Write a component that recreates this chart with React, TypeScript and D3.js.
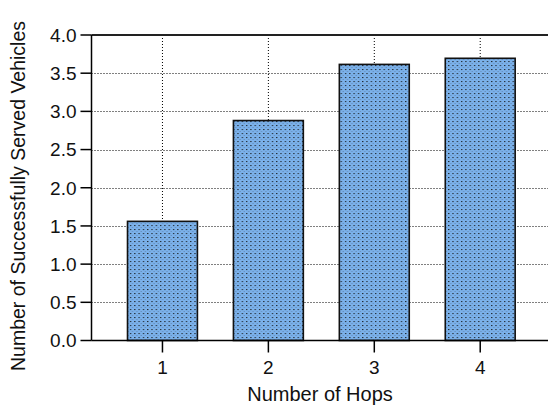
import React from "react";
import * as d3 from "d3";

const hops = [1, 2, 3, 4];
const served = [1.56, 2.88, 3.615, 3.695];
const yTicks = [0, 0.5, 1, 1.5, 2, 2.5, 3, 3.5, 4];

const W = 548, H = 411;
const left = 91.5, right = 548, top = 35, bottom = 340.5;

export default function App() {
  const x = d3.scaleLinear().domain([0.33, 4.64]).range([left, right]);
  const y = d3.scaleLinear().domain([0, 4]).range([bottom, top]);
  const bw = x(1.66) - x(1);
  const font = "Liberation Sans, Arial, sans-serif";
  return (
    <svg width={W} height={H} style={{ position: "absolute", left: 0, top: 0 }}>
      <defs>
        <pattern id="dots" width={4.3} height={4} patternUnits="userSpaceOnUse">
          <rect width={4.3} height={4} fill="#7bb1ea" />
          <rect x={1} y={1} width={1.1} height={1.1} fill="#111" />
          <rect x={3.1} y={3} width={0.9} height={0.9} fill="#223" opacity={0.4} />
        </pattern>
      </defs>
      <rect width={W} height={H} fill="#fff" />
      {yTicks.filter(t => t > 0 && t < 4).map(t => (
        <line key={t} x1={left} x2={right} y1={Math.round(y(t)) + 0.5} y2={Math.round(y(t)) + 0.5}
          stroke="#000" strokeWidth={1} strokeDasharray="1,2" />
      ))}
      {hops.map((h, i) => (
        <line key={h} x1={x(h)} x2={x(h)} y1={top} y2={y(served[i])}
          stroke="#000" strokeWidth={1} strokeDasharray="1,2" />
      ))}
      {hops.map((h, i) => (
        <rect key={h} x={x(h) - bw / 2} y={y(served[i])} width={bw} height={bottom - y(served[i])}
          fill="url(#dots)" stroke="#111" strokeWidth={1.6} />
      ))}
      <line x1={left} x2={right} y1={top} y2={top} stroke="#222" strokeWidth={2} />
      <line x1={left} x2={right} y1={bottom} y2={bottom} stroke="#000" strokeWidth={1.5} />
      <line x1={left} x2={left} y1={top} y2={bottom} stroke="#000" strokeWidth={1.5} />
      {yTicks.map(t => (
        <g key={t}>
          <line x1={left - 11} x2={left} y1={y(t)} y2={y(t)} stroke="#000" strokeWidth={1.5} />
          <text x={left - 15} y={y(t)} dy="0.36em" textAnchor="end" fontFamily={font} fontSize={19} fill="#111">
            {t.toFixed(1)}
          </text>
        </g>
      ))}
      {hops.map(h => (
        <g key={h}>
          <line x1={x(h)} x2={x(h)} y1={bottom} y2={bottom + 12} stroke="#000" strokeWidth={1.5} />
          <text x={x(h)} y={bottom + 33} textAnchor="middle" fontFamily={font} fontSize={19} fill="#111">{h}</text>
        </g>
      ))}
      <text x={320} y={401} textAnchor="middle" fontFamily={font} fontSize={20} fill="#111">
        Number of Hops
      </text>
      <text transform={`translate(25, ${196}) rotate(-90)`} textAnchor="middle"
        fontFamily={font} fontSize={19.5} fill="#111">
        Number of Successfully Served Vehicles
      </text>
    </svg>
  );
}
